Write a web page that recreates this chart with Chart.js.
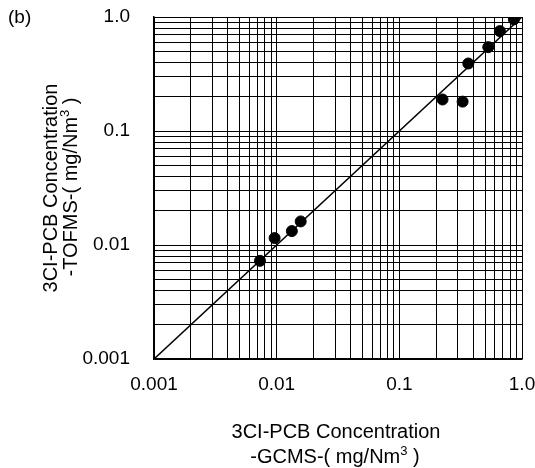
<!DOCTYPE html>
<html>
<head>
<meta charset="utf-8">
<script src="https://cdn.jsdelivr.net/npm/chart.js@4"></script>
<style>
  html, body { margin: 0; padding: 0; background: #fff; }
  #wrap { width: 535px; height: 468px; }
</style>
</head>
<body>
<div id="wrap"><canvas id="chart" width="535" height="468"></canvas></div>
<script>
// 3Cl-PCB, GCMS (x) vs TOFMS (y), mg/Nm3
const gcms  = [0.00731, 0.00962, 0.0133, 0.0157, 0.225, 0.328, 0.365, 0.531, 0.66, 0.859];
const tofms = [0.00726, 0.0115, 0.01325, 0.0161, 0.189, 0.181, 0.391, 0.544, 0.752, 0.953];
const tickLabels = ['0.001', '0.01', '0.1', '1.0'];
const decades = [0.001, 0.01, 0.1, 1];
const panelLabel = '(b)';
const titleLine1 = '3CI-PCB Concentration';
const xTitleLine2 = ['-GCMS-( mg/Nm', '3', ' )'];
const yTitleLine2 = ['-TOFMS-( mg/Nm', '3', ' )'];

const FONT = '"Liberation Sans", Arial, sans-serif';

// gridline at every 1..9 of each decade
function logTicks() {
  const out = [];
  for (let d = 0; d < decades.length - 1; d++) {
    for (let m = 1; m <= 9; m++) out.push({ value: decades[d] * m });
  }
  out.push({ value: decades[decades.length - 1] });
  return out;
}
function tickText(v) {
  const i = decades.findIndex(d => Math.abs(d - v) < d * 1e-6);
  return i >= 0 ? tickLabels[i] : '';
}
// keep the plot box where the original has it
function noLabelPadding(s) {
  s.paddingTop = 0; s.paddingBottom = 0; s.paddingLeft = 0; s.paddingRight = 0;
}

// line with a superscript part, centered on cx
function drawSupLine(ctx, parts, cx, by) {
  ctx.font = '20px ' + FONT;
  const w0 = ctx.measureText(parts[0]).width;
  const w2 = ctx.measureText(parts[2]).width;
  ctx.font = '13px ' + FONT;
  const w1 = ctx.measureText(parts[1]).width;
  let x = cx - (w0 + w1 + w2) / 2;
  ctx.textAlign = 'left';
  ctx.font = '20px ' + FONT;
  ctx.fillText(parts[0], x, by);
  x += w0;
  ctx.font = '13px ' + FONT;
  ctx.fillText(parts[1], x, by - 8);
  x += w1;
  ctx.font = '20px ' + FONT;
  ctx.fillText(parts[2], x, by);
}

const titles = {
  id: 'titles',
  afterDraw(chart) {
    const ctx = chart.ctx;
    const area = chart.chartArea;
    const cx = (area.left + area.right) / 2;
    const cy = (area.top + area.bottom) / 2;
    ctx.save();
    ctx.fillStyle = '#000';
    ctx.textBaseline = 'alphabetic';
    // panel label
    ctx.font = '19px ' + FONT;
    ctx.textAlign = 'left';
    ctx.fillText(panelLabel, 8, 23);
    // x title
    ctx.font = '20px ' + FONT;
    ctx.textAlign = 'center';
    ctx.fillText(titleLine1, cx - 2, 438);
    drawSupLine(ctx, xTitleLine2, cx - 3, 463);
    // y title
    ctx.translate(0, cy);
    ctx.rotate(-Math.PI / 2);
    ctx.font = '20px ' + FONT;
    ctx.textAlign = 'center';
    ctx.fillText(titleLine1, 0, 57);
    drawSupLine(ctx, yTitleLine2, 1, 77);
    ctx.restore();
  }
};

new Chart(document.getElementById('chart'), {
  type: 'scatter',
  data: {
    datasets: [
      {
        label: 'samples',
        data: gcms.map((x, i) => ({ x: x, y: tofms[i] })),
        backgroundColor: '#000',
        borderColor: '#000',
        pointRadius: 5.5,
        pointHoverRadius: 5.5
      },
      {
        type: 'line',
        label: '1:1',
        data: [{ x: decades[0], y: decades[0] }, { x: decades[3], y: decades[3] }],
        borderColor: '#000',
        borderWidth: 1.5,
        pointRadius: 0,
        fill: false
      }
    ]
  },
  options: {
    responsive: false,
    animation: false,
    layout: { padding: { top: 17, right: 13, left: 0, bottom: 0 } },
    plugins: { legend: { display: false }, tooltip: { enabled: false } },
    scales: {
      x: {
        type: 'logarithmic',
        min: 0.001,
        max: 1,
        afterBuildTicks: s => { s.ticks = logTicks(); },
        afterFit: s => { s.height = 109; noLabelPadding(s); },
        grid: { color: '#000', lineWidth: 1, drawTicks: false },
        border: { color: '#000', width: 1.5 },
        ticks: {
          autoSkip: false,
          maxRotation: 0,
          padding: 14,
          color: '#000',
          font: { family: FONT, size: 19 },
          callback: v => tickText(v)
        }
      },
      y: {
        type: 'logarithmic',
        min: 0.001,
        max: 1,
        afterBuildTicks: s => { s.ticks = logTicks(); },
        afterFit: s => { s.width = 154; noLabelPadding(s); },
        grid: { color: '#000', lineWidth: 1, drawTicks: false },
        border: { color: '#000', width: 1.5 },
        ticks: {
          autoSkip: false,
          padding: 24,
          color: '#000',
          font: { family: FONT, size: 19 },
          callback: v => tickText(v)
        }
      }
    }
  },
  plugins: [titles]
});
</script>
</body>
</html>
